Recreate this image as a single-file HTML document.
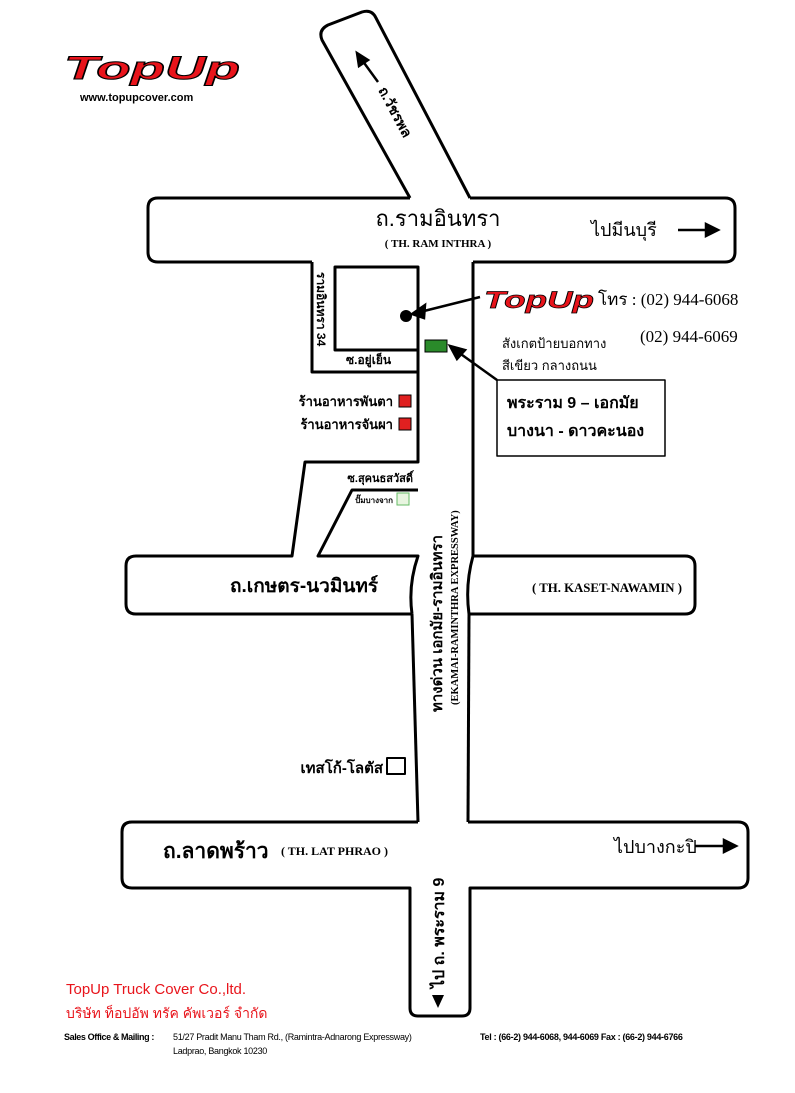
<!DOCTYPE html>
<html><head><meta charset="utf-8"><style>
html,body{margin:0;padding:0;background:#fff}
svg{display:block}
.th{font-family:"Liberation Sans","Noto Sans CJK SC",sans-serif}
.sf{font-family:"Liberation Serif","Noto Serif CJK SC",serif}
</style></head><body>
<svg width="795" height="1093" viewBox="0 0 795 1093" xmlns="http://www.w3.org/2000/svg">
<g fill="none" stroke="#000" stroke-width="3" stroke-linejoin="round">
<path d="M410,198 L322,40 Q318,30 328,25 L362,12 Q372,9 376,18 L470,198"/>
<path d="M410,198 L158,198 Q148,198 148,208 L148,252 Q148,262 158,262 L312,262"/>
<path d="M470,198 L725,198 Q735,198 735,208 L735,252 Q735,262 725,262 L473,262"/>
<path d="M312,262 L312,372 L418,372"/>
<rect x="335" y="267" width="83" height="83"/>
<path d="M418,267 L418,462 L305,462 L292,556 L136,556 Q126,556 126,566 L126,604 Q126,614 136,614 L412,614"/>
<path d="M418,490 L352,490 L318,556 L418,556 Q408,585 412,614"/>
<path d="M473,262 L473,556 Q465,585 469,614"/>
<path d="M473,556 L685,556 Q695,556 695,566 L695,604 Q695,614 685,614 L469,614"/>
<path d="M412,614 L418,822"/>
<path d="M469,614 L468,822"/>
<path d="M418,822 L132,822 Q122,822 122,832 L122,878 Q122,888 132,888 L410,888 L410,1008 Q410,1016 418,1016 L462,1016 Q470,1016 470,1008 L470,888 L738,888 Q748,888 748,878 L748,832 Q748,822 738,822 L468,822"/>
<rect x="497" y="380" width="168" height="76" stroke-width="1.5"/>
<rect x="387" y="758" width="18" height="16" stroke-width="2"/>
</g>
<circle cx="406" cy="316" r="6" fill="#000"/>
<rect x="425" y="340" width="22" height="12" fill="#2a8a2a" stroke="#000" stroke-width="1"/>
<rect x="399" y="395" width="12" height="12" fill="#e02020" stroke="#000" stroke-width="1"/>
<rect x="399" y="418" width="12" height="12" fill="#e02020" stroke="#000" stroke-width="1"/>
<rect x="397" y="493" width="12" height="12" fill="#e8f5e0" stroke="#6b6" stroke-width="1"/>
<g stroke="#000" stroke-width="2.5" fill="#000">
<line x1="480" y1="297" x2="420" y2="312"/>
<path d="M412,314 L425,305 L424,318 Z"/>
<line x1="497" y1="380" x2="458" y2="352"/>
<path d="M450,346 L465,350 L457,359 Z"/>
<line x1="378" y1="82" x2="362" y2="60"/>
<path d="M357,53 L368,60 L359,66 Z"/>
<line x1="678" y1="230" x2="710" y2="230"/>
<path d="M718,230 L706,224 L706,236 Z"/>
<line x1="695" y1="846" x2="728" y2="846"/>
<path d="M736,846 L724,840 L724,852 Z"/>
</g>
<path d="M432,995 L444,995 L438,1008 Z" fill="#000"/>
<text x="64" y="79" class="th" font-size="32" font-weight="bold" font-style="italic" fill="#e8141b" stroke="#000" stroke-width="1" textLength="176" lengthAdjust="spacingAndGlyphs">TopUp</text>
<text x="80" y="101" class="th" font-size="11" font-weight="bold">www.topupcover.com</text>
<text x="438" y="226" class="th" font-size="22" text-anchor="middle">ถ.รามอินทรา</text>
<text x="438" y="247" class="sf" font-size="11" font-weight="bold" text-anchor="middle">( TH. RAM INTHRA )</text>
<text x="591" y="236" class="th" font-size="18">ไปมีนบุรี</text>
<text transform="translate(378,90) rotate(62)" class="th" font-size="14" font-weight="bold">ถ.วัชรพล</text>
<text x="484" y="308" class="th" font-size="24" font-weight="bold" font-style="italic" fill="#e8141b" stroke="#000" stroke-width="0.7" textLength="110" lengthAdjust="spacingAndGlyphs">TopUp</text>
<text x="598" y="305" class="sf" font-size="17">โทร : (02) 944-6068</text>
<text x="640" y="342" class="sf" font-size="17">(02) 944-6069</text>
<text x="502" y="348" class="th" font-size="13">สังเกตป้ายบอกทาง</text>
<text x="502" y="370" class="th" font-size="13">สีเขียว กลางถนน</text>
<text x="507" y="408" class="th" font-size="16" font-weight="bold">พระราม 9 – เอกมัย</text>
<text x="507" y="436" class="th" font-size="16" font-weight="bold">บางนา - ดาวคะนอง</text>
<text transform="translate(317,272) rotate(90)" class="th" font-size="12" font-weight="bold">รามอินทรา 34</text>
<text x="346" y="364" class="th" font-size="12" font-weight="bold">ซ.อยู่เย็น</text>
<text x="393" y="406" class="th" font-size="13" font-weight="bold" text-anchor="end">ร้านอาหารพันตา</text>
<text x="393" y="429" class="th" font-size="13" font-weight="bold" text-anchor="end">ร้านอาหารจันผา</text>
<text x="413" y="482" class="th" font-size="11" font-weight="bold" text-anchor="end">ซ.สุคนธสวัสดิ์</text>
<text x="393" y="503" class="th" font-size="8" font-weight="bold" text-anchor="end">ปั๊มบางจาก</text>
<text x="230" y="592" class="th" font-size="19" font-weight="bold">ถ.เกษตร-นวมินทร์</text>
<text x="532" y="592" class="sf" font-size="13" font-weight="bold" textLength="150" lengthAdjust="spacingAndGlyphs">( TH. KASET-NAWAMIN )</text>
<text transform="translate(442,712) rotate(-90)" class="th" font-size="15" font-weight="bold">ทางด่วน เอกมัย-รามอินทรา</text>
<text transform="translate(458,705) rotate(-90)" class="sf" font-size="10.5" font-weight="bold">(EKAMAI-RAMINTHRA EXPRESSWAY)</text>
<text x="383" y="773" class="th" font-size="15" font-weight="bold" text-anchor="end">เทสโก้-โลตัส</text>
<text x="163" y="858" class="th" font-size="21" font-weight="bold">ถ.ลาดพร้าว</text>
<text x="281" y="855" class="sf" font-size="12" font-weight="bold">( TH. LAT PHRAO )</text>
<text x="614" y="853" class="th" font-size="18">ไปบางกะปิ</text>
<text transform="translate(444,988) rotate(-90)" class="th" font-size="16" font-weight="bold">ไป ถ. พระราม 9</text>
<text x="66" y="994" class="th" font-size="15" fill="#e8141b">TopUp Truck Cover Co.,ltd.</text>
<text x="66" y="1018" class="th" font-size="14" fill="#e8141b">บริษัท ท็อปอัพ ทรัค คัพเวอร์ จำกัด</text>
<text x="64" y="1040" class="th" font-size="9" font-weight="bold" letter-spacing="-0.4">Sales Office &amp; Mailing  :</text>
<text x="173" y="1040" class="th" font-size="9" letter-spacing="-0.3">51/27  Pradit Manu Tham Rd., (Ramintra-Adnarong Expressway)</text>
<text x="173" y="1054" class="th" font-size="9" letter-spacing="-0.3">Ladprao, Bangkok 10230</text>
<text x="480" y="1040" class="th" font-size="9" font-weight="bold" letter-spacing="-0.3">Tel : (66-2) 944-6068, 944-6069  Fax : (66-2) 944-6766</text>
</svg>
</body></html>
